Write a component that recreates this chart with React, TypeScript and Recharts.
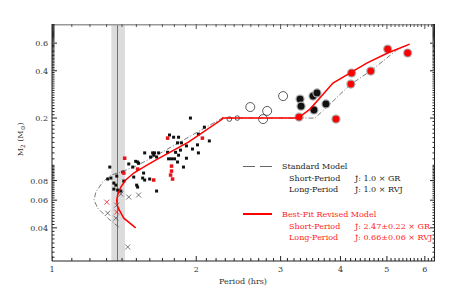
import React from "react";
import { ComposedChart, Scatter, XAxis, YAxis, ReferenceArea, ReferenceLine } from "recharts";

// [period (hrs), M2 (Msun)]
const blackSquares = [
  [1.32, 0.0975], [1.307, 0.0818], [1.327, 0.083], [1.365, 0.0854], [1.346, 0.0771],
  [1.359, 0.0748], [1.346, 0.0706], [1.371, 0.0695], [1.392, 0.0686], [1.412, 0.0794],
  [1.446, 0.102], [1.474, 0.0975], [1.495, 0.106], [1.509, 0.105], [1.516, 0.103],
  [1.481, 0.0842], [1.502, 0.0748], [1.509, 0.0727], [1.546, 0.083], [1.561, 0.0806],
  [1.561, 0.12], [1.599, 0.0818], [1.622, 0.12], [1.63, 0.116], [1.637, 0.12],
  [1.653, 0.113], [1.606, 0.113], [1.653, 0.0686], [1.945, 0.2], [2.08, 0.175],
  [2.021, 0.158], [2.13, 0.143], [1.759, 0.156], [1.794, 0.151], [1.837, 0.151],
  [1.828, 0.139], [1.863, 0.139], [1.908, 0.133], [2.012, 0.135], [1.964, 0.127],
  [2.021, 0.12], [1.854, 0.125], [1.669, 0.12], [1.743, 0.121], [1.811, 0.121],
  [1.837, 0.116], [1.751, 0.11], [1.776, 0.11], [1.802, 0.11], [1.908, 0.111],
  [1.828, 0.105], [1.881, 0.0975], [1.405, 0.0906], [1.553, 0.0893],
];
const redSquares = [
  [1.418, 0.111], [1.412, 0.0893], [1.509, 0.0947], [1.63, 0.0806], [1.743, 0.149],
  [2.06, 0.149], [1.776, 0.0989], [1.776, 0.0919], [1.768, 0.0867], [1.785, 0.0818],
];
const blackCrosses = [
  [1.392, 0.0656], [1.446, 0.0628], [1.516, 0.0647], [1.307, 0.0496],
  [1.359, 0.0461], [1.365, 0.0558], [1.439, 0.0302],
];
const redCrosses = [[1.301, 0.0583], [1.365, 0.0504]];
const openCircles = [[2.593, 0.235], [2.812, 0.222], [2.758, 0.197], [3.036, 0.276]];
const smallOpenCircles = [[2.436, 0.2], [2.345, 0.197]];
const blackCircles = [
  [3.294, 0.264], [3.31, 0.238], [3.505, 0.276], [3.573, 0.289], [3.521, 0.225], [3.73, 0.246],
];
const redCircles = [
  [3.278, 0.203], [3.914, 0.197], [4.205, 0.329], [4.219, 0.387], [4.627, 0.398],
  [5.018, 0.55], [5.524, 0.519],
];
const revisedModel = [
  [1.495, 0.04], [1.412, 0.0461], [1.371, 0.0542], [1.365, 0.0597], [1.371, 0.0647],
  [1.392, 0.0728], [1.425, 0.0806], [1.481, 0.0893], [1.553, 0.0975], [1.645, 0.108],
  [1.926, 0.1407], [2.267, 0.197], [2.27, 0.2], [3.263, 0.2], [3.456, 0.228],
  [3.858, 0.334], [4.539, 0.448], [5.018, 0.519], [5.577, 0.591],
];
const standardModel = [
  [1.378, 0.0405], [1.307, 0.0461], [1.246, 0.0534], [1.223, 0.0601], [1.235, 0.0676],
  [1.276, 0.0784], [1.327, 0.0867], [1.392, 0.0906], [1.481, 0.0975], [1.583, 0.108],
  [1.685, 0.1197], [1.926, 0.151], [2.267, 0.2], [3.539, 0.2], [3.748, 0.235],
  [4.184, 0.325], [4.65, 0.404], [5.241, 0.542], [5.577, 0.591],
];

const xTickLabels = [1, 2, 3, 4, 5, 6];
const yTickLabels = [0.04, 0.06, 0.08, 0.2, 0.4, 0.6];

const X_MIN = 1;
const X_MAX = 6.3;
const Y_MIN = 0.0246;
const Y_MAX = 0.794;

const pts = (a: number[][]) => a.map(([p, m]) => ({ p, m }));

const xTicks: number[] = [];
for (let i = 10; i <= 62; i++) xTicks.push(i / 10);
const yTicks: number[] = [];
for (let i = 26; i < 100; i += 2) yTicks.push(i / 1000);
for (let i = 10; i <= 79; i++) yTicks.push(i / 100);

const FONT = "DejaVu Serif";
const isMajor = (list: number[], v: number) => list.some((t) => Math.abs(t - v) < 1e-9);

// tick-mark anchors on the frame, drawn as scatter marks so they share the chart's scales
const xMajor = xTicks.filter((v) => isMajor(xTickLabels, v));
const xMinor = xTicks.filter((v) => !isMajor(xTickLabels, v));
const yMajor = yTicks.filter((v) => isMajor(yTickLabels, v));
const yMinor = yTicks.filter((v) => !isMajor(yTickLabels, v));
const atBottom = (a: number[]) => a.map((p) => ({ p, m: Y_MIN }));
const atTop = (a: number[]) => a.map((p) => ({ p, m: Y_MAX }));
const atLeft = (a: number[]) => a.map((m) => ({ p: X_MIN, m }));
const atRight = (a: number[]) => a.map((m) => ({ p: X_MAX, m }));
const topEdge = [{ p: X_MIN, m: Y_MAX }, { p: X_MAX, m: Y_MAX }];
const rightEdge = [{ p: X_MAX, m: Y_MIN }, { p: X_MAX, m: Y_MAX }];

const tickMark = (dx: number, dy: number, color: string) => (props: any) =>
  <line x1={props.cx} y1={props.cy} x2={props.cx + dx} y2={props.cy + dy} stroke={color} strokeWidth={1} />;

const BottomTick = ({ x, y, payload }: any) =>
  isMajor(xTickLabels, payload.value) ? (
    <text x={x} y={y + 11} textAnchor="middle" fontSize={8} fontFamily={FONT} fill="#333">
      {payload.value}
    </text>
  ) : <g />;
const LeftTick = ({ x, y, payload }: any) =>
  isMajor(yTickLabels, payload.value) ? (
    <text x={x - 4} y={y + 3} textAnchor="end" fontSize={8} fontFamily={FONT} fill="#333">
      {payload.value}
    </text>
  ) : <g />;

const square = (color: string, s: number) => (props: any) =>
  <rect x={props.cx - s / 2} y={props.cy - s / 2} width={s} height={s} fill={color} />;
const cross = (color: string) => (props: any) => (
  <g stroke={color} strokeWidth={0.8}>
    <line x1={props.cx - 2.5} y1={props.cy - 2.5} x2={props.cx + 2.5} y2={props.cy + 2.5} />
    <line x1={props.cx - 2.5} y1={props.cy + 2.5} x2={props.cx + 2.5} y2={props.cy - 2.5} />
  </g>
);
const ring = (r: number) => (props: any) =>
  <circle cx={props.cx} cy={props.cy} r={r} fill="none" stroke="#333" strokeWidth={0.8} />;
const filled = (color: string) => (props: any) => (
  <g>
    <circle cx={props.cx} cy={props.cy} r={4.6} fill="#aaa" />
    <circle cx={props.cx} cy={props.cy} r={3.4} fill={color} />
  </g>
);
const noDot = () => <g />;

const Txt = ({ x, y, color, children }: any) => (
  <div style={{ position: "absolute", left: x, top: y - 7, fontFamily: FONT, fontSize: 8, lineHeight: "9px",
    color, whiteSpace: "nowrap" }}>
    {children}
  </div>
);

export default function App() {
  return (
    <div style={{ position: "absolute", left: 0, top: 0, width: 466, height: 291, background: "#fff" }}>
      <ComposedChart width={466} height={291} margin={{ top: 24, right: 31, bottom: 0, left: 12 }}>
        <XAxis
          dataKey="p" type="number" scale="log" domain={[X_MIN, X_MAX]} allowDataOverflow
          ticks={xTicks} interval={0} tick={<BottomTick />} tickLine={false} tickSize={0} tickMargin={0}
          height={30} axisLine={{ stroke: "#222" }}
        />
        <YAxis
          dataKey="m" type="number" scale="log" domain={[Y_MIN, Y_MAX]} allowDataOverflow
          ticks={yTicks} interval={0} tick={<LeftTick />} tickLine={false} tickSize={0} tickMargin={0}
          width={40} axisLine={{ stroke: "#222" }}
        />
        <ReferenceArea x1={1.33} x2={1.42} fill="#dcdcdc" fillOpacity={1} stroke="none" />
        <ReferenceLine x={1.37} stroke="#555" strokeWidth={0.8} />

        <Scatter data={topEdge} shape={noDot} isAnimationActive={false} line={{ stroke: "#999", strokeWidth: 3 }} />
        <Scatter data={rightEdge} shape={noDot} isAnimationActive={false} line={{ stroke: "#222", strokeWidth: 2 }} />
        <Scatter data={atBottom(xMajor)} shape={tickMark(0, -5, "#222")} isAnimationActive={false} />
        <Scatter data={atBottom(xMinor)} shape={tickMark(0, -3, "#222")} isAnimationActive={false} />
        <Scatter data={atTop(xMajor)} shape={tickMark(0, 5, "#555")} isAnimationActive={false} />
        <Scatter data={atTop(xMinor)} shape={tickMark(0, 3, "#555")} isAnimationActive={false} />
        <Scatter data={atLeft(yMajor)} shape={tickMark(5, 0, "#222")} isAnimationActive={false} />
        <Scatter data={atLeft(yMinor)} shape={tickMark(2.5, 0, "#222")} isAnimationActive={false} />
        <Scatter data={atRight(yMajor)} shape={tickMark(-5, 0, "#222")} isAnimationActive={false} />
        <Scatter data={atRight(yMinor)} shape={tickMark(-2.5, 0, "#222")} isAnimationActive={false} />

        <Scatter data={pts(standardModel)} shape={noDot} isAnimationActive={false}
          line={{ stroke: "#555", strokeWidth: 0.8, strokeDasharray: "5 2 1 2" }} />
        <Scatter data={pts(blackSquares)} shape={square("#111", 3)} isAnimationActive={false} />
        <Scatter data={pts(redSquares)} shape={square("#e8141c", 3.5)} isAnimationActive={false} />
        <Scatter data={pts(blackCrosses)} shape={cross("#555")} isAnimationActive={false} />
        <Scatter data={pts(redCrosses)} shape={cross("#e8141c")} isAnimationActive={false} />
        <Scatter data={pts(openCircles)} shape={ring(4.5)} isAnimationActive={false} />
        <Scatter data={pts(smallOpenCircles)} shape={ring(2.3)} isAnimationActive={false} />
        <Scatter data={pts(blackCircles)} shape={filled("#111")} isAnimationActive={false} />
        <Scatter data={pts(redCircles)} shape={filled("#f00")} isAnimationActive={false} />
        <Scatter data={pts(revisedModel)} shape={noDot} isAnimationActive={false}
          line={{ stroke: "#f00", strokeWidth: 1.5 }} />
      </ComposedChart>

      <div style={{ position: "absolute", left: 243, top: 277, width: 0, height: 0 }}>
        <div style={{ position: "absolute", left: -40, width: 80, textAlign: "center", fontFamily: FONT,
          fontSize: 8, lineHeight: "9px", color: "#333" }}>Period (hrs)</div>
      </div>
      <div style={{ position: "absolute", left: 22, top: 138, width: 0, height: 0 }}>
        <div style={{ position: "absolute", left: -30, top: -5, width: 60, textAlign: "center",
          transform: "rotate(-90deg)", fontFamily: FONT, fontSize: 8, lineHeight: "10px", color: "#333",
          whiteSpace: "nowrap" }}>
          M<sub style={{ fontSize: 6 }}>2</sub> (M<sub style={{ fontSize: 6 }}>⊙</sub>)
        </div>
      </div>

      <div style={{ position: "absolute", left: 243, top: 165.5, width: 12, height: 1, background: "#666" }} />
      <div style={{ position: "absolute", left: 260, top: 165.5, width: 12, height: 1, background: "#666" }} />
      <Txt x={282} y={169} color="#222">Standard Model</Txt>
      <Txt x={289} y={181} color="#222">Short-Period</Txt>
      <Txt x={355} y={181} color="#222">J̇: 1.0 × GR</Txt>
      <Txt x={289} y={192} color="#222">Long-Period</Txt>
      <Txt x={355} y={192} color="#222">J̇: 1.0 × RVJ</Txt>
      <div style={{ position: "absolute", left: 243, top: 213, width: 29, height: 1.5, background: "#f00" }} />
      <Txt x={282} y={217} color="#f22">Best-Fit Revised Model</Txt>
      <Txt x={289} y={229} color="#f22">Short-Period</Txt>
      <Txt x={355} y={229} color="#f22">J̇: 2.47±0.22 × GR</Txt>
      <Txt x={289} y={240} color="#f22">Long-Period</Txt>
      <Txt x={355} y={240} color="#f22">J̇: 0.66±0.06 × RVJ</Txt>
    </div>
  );
}
